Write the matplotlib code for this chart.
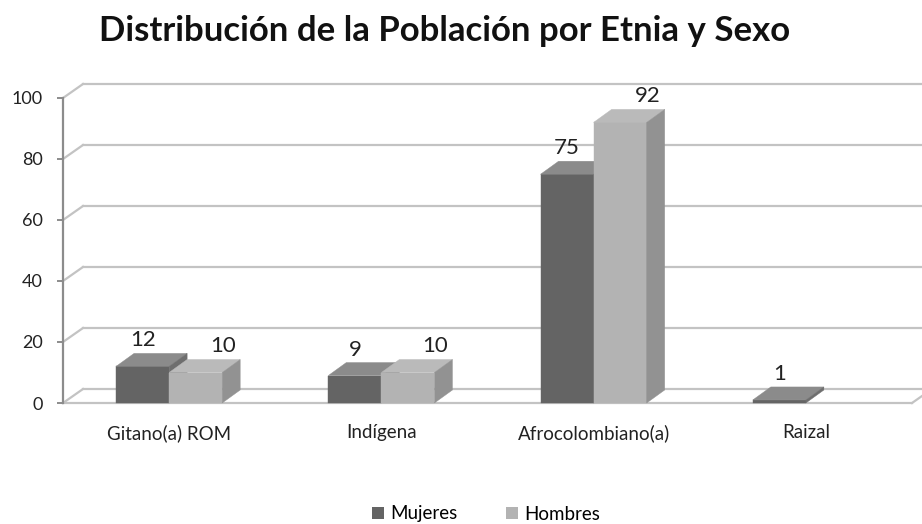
import matplotlib.pyplot as plt
from matplotlib.patches import Polygon, Patch

# -----------------------------------------------------
# DATA
# -----------------------------------------------------
categorias = ["Gitano(a) ROM", "Indígena", "Afrocolombiano(a)", "Raizal"]
mujeres = [12, 9, 75, 1]
hombres = [10, 10, 92, 0]
y_ticks = [0, 20, 40, 60, 80, 100]

# -----------------------------------------------------
# STYLE
# -----------------------------------------------------
plt.rcParams['font.family'] = ['Lato', 'DejaVu Sans']

W, H, DPI = 922, 524, 100
fig = plt.figure(figsize=(W / DPI, H / DPI), dpi=DPI)

# front plane of the 3D box, in figure pixels
left_px, right_px, bottom_px, top_px = 63, 912, 403, 98
ax = fig.add_axes([left_px / W, 1 - bottom_px / H,
                   (right_px - left_px) / W, (bottom_px - top_px) / H])
ax.set_xlim(-0.5, len(categorias) - 0.5)
ax.set_ylim(0, 100)

px_x = (right_px - left_px) / len(categorias)   # pixels per category
px_y = (bottom_px - top_px) / 100.0             # pixels per unit

# depth offsets (pixels -> data units)
wall_dx, wall_dy = 20 / px_x, 14 / px_y
bar_dx, bar_dy = 18 / px_x, 13 / px_y

grid_col = '#c3c3c3'
axis_col = '#8c8c8c'

# back wall gridlines + side wall diagonals
x0, x1 = -0.5, len(categorias) - 0.5
for g in y_ticks:
    ax.plot([x0 + wall_dx, x1 + wall_dx + 1], [g + wall_dy, g + wall_dy],
            color=grid_col, lw=1.6, clip_on=False, zorder=1)
    ax.plot([x0, x0 + wall_dx], [g, g + wall_dy],
            color=grid_col, lw=1.6, clip_on=False, zorder=1)

# floor: front edge and right diagonal
ax.plot([x0, x1], [0, 0], color=grid_col, lw=1.6, clip_on=False, zorder=1)
ax.plot([x1, x1 + wall_dx], [0, wall_dy], color=grid_col, lw=1.6,
        clip_on=False, zorder=1)


def draw_bar(x_left, width, value, front, top, side, z):
    xr = x_left + width
    faces = [
        ([(x_left, 0), (xr, 0), (xr, value), (x_left, value)], front),
        ([(x_left, value), (xr, value), (xr + bar_dx, value + bar_dy),
          (x_left + bar_dx, value + bar_dy)], top),
        ([(xr, 0), (xr + bar_dx, bar_dy), (xr + bar_dx, value + bar_dy),
          (xr, value)], side),
    ]
    for pts, col in faces:
        ax.add_patch(Polygon(pts, closed=True, facecolor=col, edgecolor=col,
                             lw=0.3, clip_on=False, zorder=z))


bw = 0.25
muj_cols = ('#646464', '#8b8b8b', '#6e6e6e')
hom_cols = ('#b3b3b3', '#bababa', '#929292')

for i, (m, h) in enumerate(zip(mujeres, hombres)):
    if m > 0:
        draw_bar(i - bw, bw, m, *muj_cols, z=3 + i * 2)
        ax.text(i - bw / 2, m + bar_dy + 2.3, str(m), ha='center',
                va='baseline', fontsize=16, color='#222222', zorder=20)
    if h > 0:
        draw_bar(i, bw, h, *hom_cols, z=4 + i * 2)
        ax.text(i + bw / 2 + 0.13, h + bar_dy + 2.3, str(h), ha='center',
                va='baseline', fontsize=16, color='#222222', zorder=20)

# axes: left spine is the front vertical axis
for s in ['top', 'right', 'bottom']:
    ax.spines[s].set_visible(False)
ax.spines['left'].set_color(axis_col)
ax.spines['left'].set_linewidth(1.6)
ax.set_yticks(y_ticks)
ax.tick_params(axis='y', length=4.5, width=1.4, color=axis_col,
               labelsize=13, pad=10, labelcolor='#222222')
ax.set_xticks(range(len(categorias)))
ax.set_xticklabels(categorias)
ax.tick_params(axis='x', length=0, labelsize=13.5, pad=15,
               labelcolor='#222222')
for lbl in ax.get_xticklabels():
    lbl.set_x(lbl.get_position()[0])

fig.text(445 / W, 1 - 41 / H, "Distribución de la Población por Etnia y Sexo",
         ha='center', va='baseline', fontsize=25, fontweight='bold',
         color='#111111')

handles = [Patch(facecolor=muj_cols[0], label='Mujeres'),
           Patch(facecolor=hom_cols[0], label='Hombres')]
fig.legend(handles=handles, loc='center', bbox_to_anchor=(486 / W, 1 - 514 / H),
           ncol=2, frameon=False, fontsize=13.5, handlelength=0.65,
           handleheight=0.65, handletextpad=0.3, columnspacing=2.6)

fig.savefig('out.png', dpi=DPI, facecolor='white')
